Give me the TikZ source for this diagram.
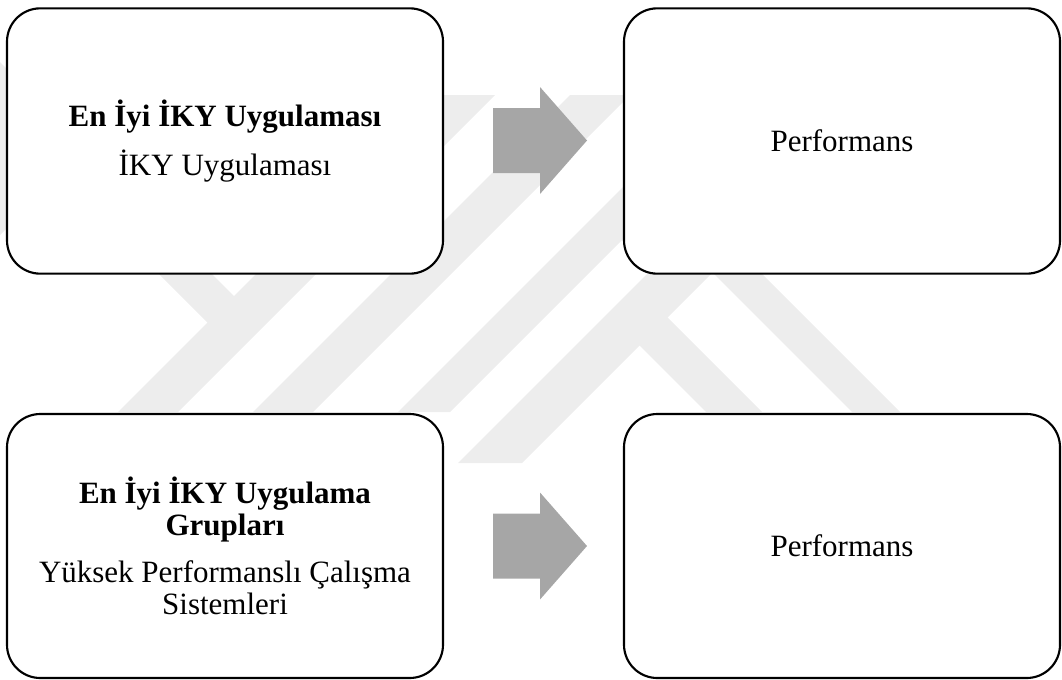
\documentclass[tikz,border=0pt]{standalone}
\usepackage{fontspec}
\setmainfont{Liberation Serif}
\definecolor{markgray}{RGB}{237,237,237}
\definecolor{arrowgray}{RGB}{166,166,166}
\begin{document}
\begin{tikzpicture}[x=0.75pt,y=-0.75pt,
  card/.style={draw=black, line width=1.6pt, fill=white, rounded corners=25pt,
    minimum width=327pt, minimum height=199pt, align=center, inner sep=0pt,
    font=\fontsize{23.25}{24}\selectfont},
  band/.style={fill=markgray, draw=none},
  pics/blockarrow/.style={code={
    \fill[arrowgray] (0,-32.5) -- ++(47,0) -- ++(0,-21) -- ++(47,53.5)
      -- ++(-47,53.5) -- ++(0,-21) -- ++(-47,0) -- cycle;}}]
\useasboundingbox (0,0) rectangle (1062,679);

% faint background emblem: diagonal stripes
\fill[band] (5,95) -- (140,95) -- (-177,412) -- (-312,412) -- cycle;
\fill[band] (435,95) -- (495,95) -- (178,412) -- (118,412) -- cycle;
\fill[band] (570,95) -- (630,95) -- (313,412) -- (253,412) -- cycle;
\fill[band] (715,95) -- (767,95) -- (450,412) -- (398,412) -- cycle;
\fill[band] (826,95) -- (890,95) -- (522,463) -- (458,463) -- cycle;
\fill[band] (-55,60) -- (-2,60) -- (249,311) -- (222.5,337.5) -- cycle;
\fill[band] (638,198) -- (662,174) -- (900,412) -- (852,412) -- cycle;
\fill[band] (622,328) -- (650,300) -- (762,412) -- (706,412) -- cycle;

% boxes
\node[card] (best) at (225,141)
  {\textbf{En İyi İKY Uygulaması}\\[11pt]İKY Uygulaması};
\node[card] (perf1) at (842,141) {Performans};
\node[card, minimum height=198pt] (group) at (225,546)
  {\textbf{En İyi İKY Uygulama}\\\textbf{Grupları}\\[11pt]Yüksek Performanslı Çalışma\\Sistemleri};
\node[card, minimum height=198pt] (perf2) at (842,546) {Performans};

% block arrows between the boxes
\coordinate (arr1) at (493,140.5);
\coordinate (arr2) at (493,546);
\pic at (arr1) {blockarrow};
\pic at (arr2) {blockarrow};
\end{tikzpicture}
\end{document}
